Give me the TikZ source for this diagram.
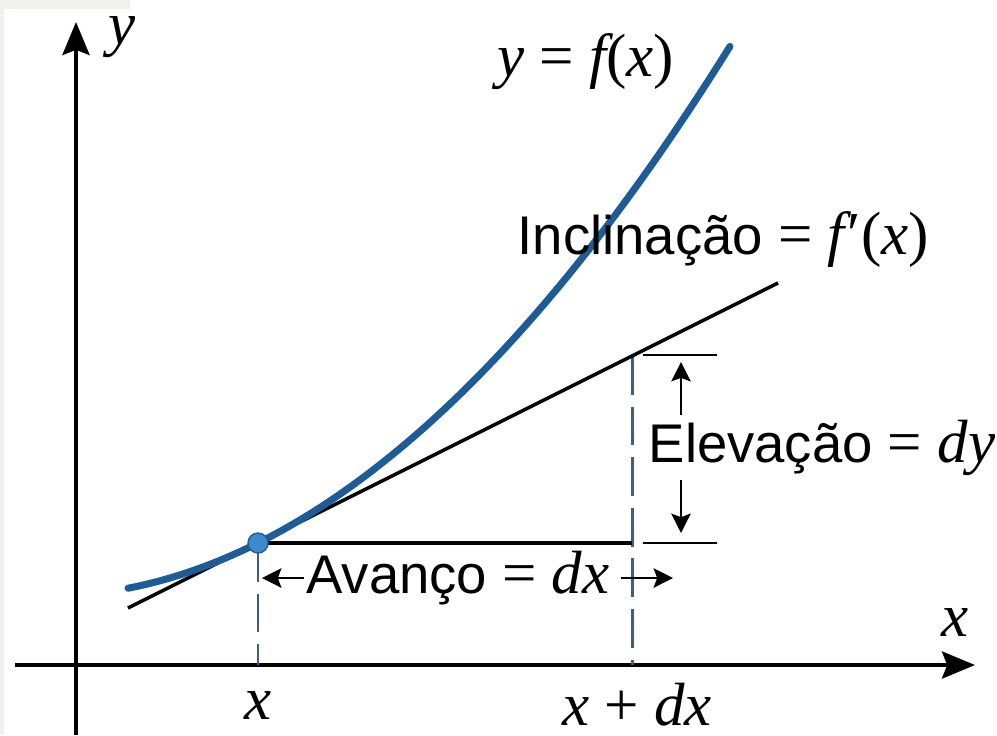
\documentclass[tikz,border=0pt]{standalone}
\usepackage{fontspec}
\setmainfont{Liberation Sans}
\newfontfamily\tms[Scale=1.12]{Liberation Serif}
\usetikzlibrary{arrows.meta}
\definecolor{curveblue}{HTML}{1D5C96}
\definecolor{dotblue}{HTML}{3B8AD0}
\definecolor{dashblue}{HTML}{3F5F80}
\definecolor{edgegrey}{HTML}{F1F1EC}
\newcommand{\mv}[1]{{\tms\itshape #1}}
\newcommand{\mr}[1]{{\tms #1}}
\begin{document}
\begin{tikzpicture}[
  lbl/.style={inner sep=0pt, font=\fontsize{15.5}{18}\selectfont},
  axis/.style={line width=1.15pt, -{Stealth[length=9.4pt,width=7.7pt,inset=1.5pt]}},
  dim/.style={line width=0.8pt, -{Stealth[length=5.5pt,width=5.5pt,inset=1pt]}},
  guide/.style={dashblue, line width=0.85pt, dash pattern=on 11pt off 3.4pt},
  tick/.style={line width=0.7pt}
]
\useasboundingbox (-0.76,-0.70) rectangle (9.21,6.65);
\fill[edgegrey] (-0.76,-0.70) rectangle (-0.72,6.65);
\fill[edgegrey] (-0.76,6.56) rectangle (0.54,6.65);

% axes
\coordinate (xs) at (-0.61,0);
\coordinate (xe) at (8.99,0);
\coordinate (ys) at (0,-0.70);
\coordinate (ye) at (0,6.43);
\draw[axis] (xs) -- (xe);
\draw[axis] (ys) -- (ye);
\node[lbl] (ylab) at (0.46,6.28) {\mv{y}};
\node[lbl] (xlab) at (8.79,0.43) {\mv{x}};

% point, tangent and the two feet
\coordinate (P) at (1.82,1.22);
\coordinate (Q) at (5.56,3.09);
\coordinate (R) at (5.56,1.22);
\coordinate (Px) at (1.82,0);
\coordinate (Qx) at (5.56,0);
\coordinate (ta) at (0.52,0.57);
\coordinate (tb) at (7.02,3.82);

\draw[guide] (P) -- (Px);
\draw[guide] (Q) -- (Qx);
\draw[line width=1pt] (ta) -- (tb);
\draw[line width=0.9pt] (P) -- (R);

\draw[curveblue, line width=2pt, line cap=round, domain=-1.30:4.72, samples=60]
  plot ({1.82+\x}, {1.22+0.5*\x+0.117*\x*\x});
\fill[dotblue, draw=curveblue, line width=0.4pt] (P) circle (0.1);

% rise
\coordinate (ta1) at (5.67,3.10);
\coordinate (ta2) at (6.41,3.10);
\coordinate (tb1) at (5.67,1.22);
\coordinate (tb2) at (6.41,1.22);
\draw[tick] (ta1) -- (ta2);
\draw[tick] (tb1) -- (tb2);
\coordinate (upa) at (6.05,2.50);
\coordinate (upb) at (6.05,3.03);
\coordinate (dna) at (6.05,1.85);
\coordinate (dnb) at (6.05,1.32);
\draw[dim] (upa) -- (upb);
\draw[dim] (dna) -- (dnb);
\node[lbl, anchor=west] (rise) at (5.72,2.17) {Elevação \mr{=} \mv{dy}};

% run
\node[lbl] (run) at (3.82,0.87) {Avanço \mr{=} \mv{dx}};
\coordinate (runl) at (1.86,0.87);
\coordinate (runr) at (5.97,0.87);
\draw[dim] (run.west) ++(-0.02,0) -- (runl);
\draw[dim] (run.east) ++(0.11,0) -- (runr);

% labels
\node[lbl, anchor=west] (slope) at (4.41,4.25) {Inclinação \mr{=} \mv{f}\kern0.06em\mr{′(}\mv{x}\mr{)}};
\node[lbl, anchor=west] (fx) at (4.21,6.03) {\mv{y} \mr{=} \mv{f}\mr{(}\mv{x}\mr{)}};
\node[lbl] (xt) at (1.82,-0.40) {\mv{x}};
\node[lbl] (xdxt) at (5.61,-0.40) {\mv{x} \mr{+} \mv{dx}};
\end{tikzpicture}
\end{document}
